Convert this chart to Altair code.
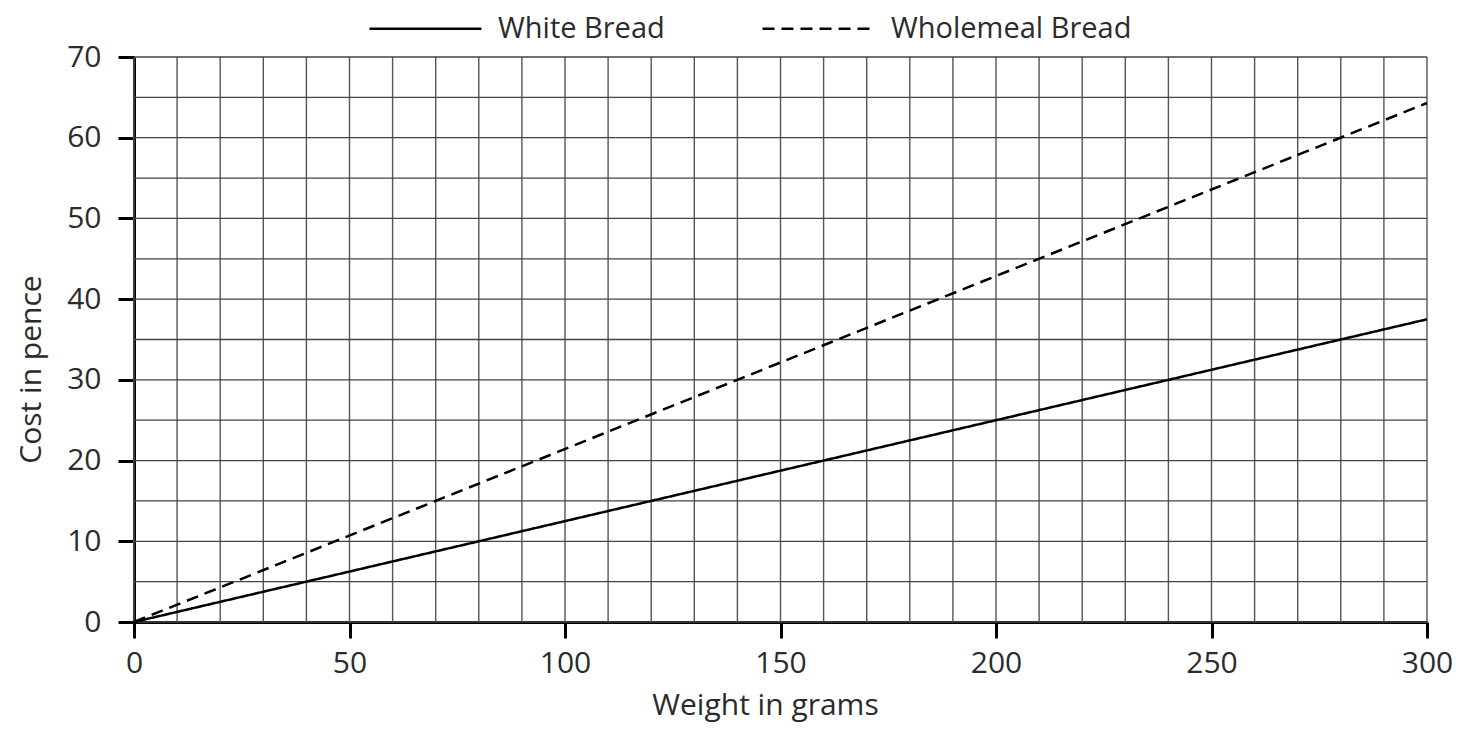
import altair as alt
import pandas as pd

# Data
series_names = ["White Bread", "Wholemeal Bread"]
weights = [0, 300]
white_cost = [0, 37.5]
wholemeal_cost = [0, 64.3]

x_ticks = [0, 50, 100, 150, 200, 250, 300]
y_ticks = [0, 10, 20, 30, 40, 50, 60, 70]
x_grid = list(range(0, 301, 10))
y_grid = [v / 2 for v in range(0, 141, 10)]

FONT = "Open Sans"
TEXT = "#2b2b2b"
W, H = 1293, 565

df = pd.DataFrame({
    "series": [series_names[0]] * len(weights) + [series_names[1]] * len(weights),
    "weight": weights + weights,
    "cost": white_cost + wholemeal_cost,
})
gx = pd.DataFrame({"gx": x_grid})
gy = pd.DataFrame({"gy": y_grid})

xscale = alt.Scale(domain=[0, 300], nice=False, zero=False)
yscale = alt.Scale(domain=[0, 70], nice=False, zero=False)

xaxis = alt.Axis(
    values=x_ticks, title="Weight in grams", grid=False,
    domainColor="black", domainWidth=3, tickColor="black", tickWidth=3,
    tickSize=16, labelPadding=10, labelFontSize=30, labelFont=FONT,
    labelColor=TEXT, titleFont=FONT, titleFontSize=30, titleFontWeight="normal",
    titleColor=TEXT, titleX=631, titleY=92, titleBaseline="alphabetic",
    labelFlush=False)
yaxis = alt.Axis(
    values=y_ticks, title="Cost in pence", grid=False,
    domainColor="black", domainWidth=3, tickColor="black", tickWidth=3,
    tickSize=16, labelPadding=17, labelFontSize=30, labelFont=FONT,
    labelColor=TEXT, titleFont=FONT, titleFontSize=30, titleFontWeight="normal",
    titleColor=TEXT, titleX=-103, titleY=312, titleBaseline="middle",
    labelFlush=False)

vgrid = alt.Chart(gx).mark_rule(color="#555555", strokeWidth=1.4).encode(
    x=alt.X("gx:Q", scale=xscale, axis=xaxis, title="Weight in grams"),
    y=alt.value(0), y2=alt.value(H),
)
hgrid = alt.Chart(gy).mark_rule(color="#444444", strokeWidth=1.3).encode(
    y=alt.Y("gy:Q", scale=yscale, axis=yaxis, title="Cost in pence"),
    x=alt.value(0), x2=alt.value(W),
)

lines = alt.Chart(df).mark_line(color="black", strokeWidth=2.5).encode(
    x=alt.X("weight:Q", scale=xscale, axis=xaxis, title="Weight in grams"),
    y=alt.Y("cost:Q", scale=yscale, axis=yaxis, title="Cost in pence"),
    strokeDash=alt.StrokeDash("series:N", scale=alt.Scale(
        domain=series_names, range=[[1, 0], [12, 7]]),
        legend=alt.Legend(
            title=None, orient="none", direction="horizontal",
            legendX=234, legendY=-86, symbolType="stroke", symbolSize=12544,
            symbolStrokeColor="black", symbolStrokeWidth=2.5,
            labelFont=FONT, labelFontSize=29, labelColor=TEXT,
            labelOffset=15, columnPadding=92, labelLimit=400)),
    detail="series:N",
)

chart = alt.layer(vgrid, hgrid, lines).properties(
    width=W, height=H,
    autosize=alt.AutoSizeParams(type="none"),
    padding={"left": 126, "top": 49, "right": 40, "bottom": 100},
).configure_view(stroke=None)

chart.save("out.html", embed_options={"renderer": "svg", "actions": False})
